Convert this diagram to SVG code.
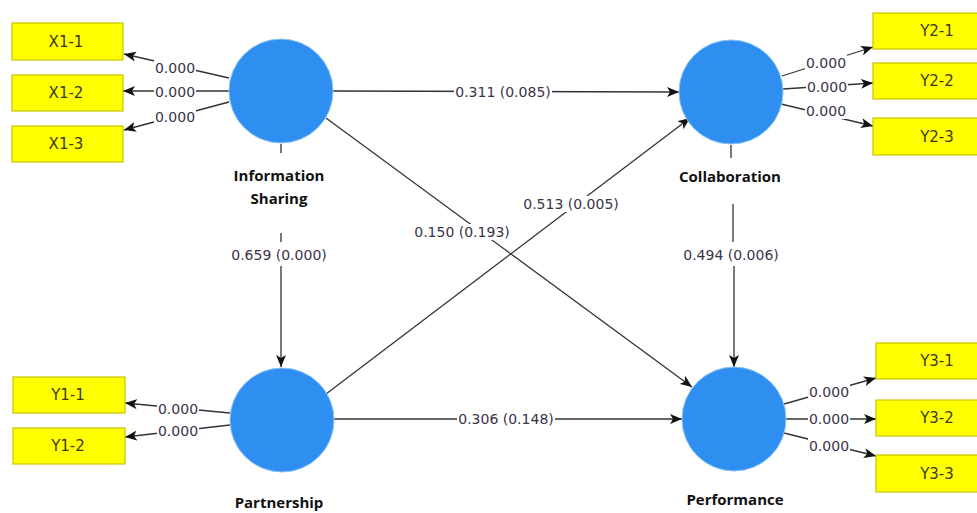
<svg xmlns="http://www.w3.org/2000/svg" width="977" height="513" viewBox="0 0 977 513">
<defs>
<marker id="ah" markerUnits="userSpaceOnUse" markerWidth="12" markerHeight="10" viewBox="0 0 12 10" refX="12" refY="5" orient="auto">
<path d="M0,0 L12,5 L0,10 L3,5 Z" fill="#111"/>
</marker>
<style>
.bg{fill:#ffffff}
.lv{fill:#2f8ff0;stroke:#8cc4f8;stroke-width:1}
.mv{fill:#ffff00;stroke:#c8c400;stroke-width:1.2}
.mt{font-family:"DejaVu Sans",sans-serif;font-size:15px;fill:#3a3a1a;text-anchor:middle;dominant-baseline:central}
.nl{font-family:"Open Sans",sans-serif;font-weight:bold;font-size:15px;fill:#111;text-anchor:middle}
.ln{fill:none;stroke:#333;stroke-width:1.3}
.lb{font-family:"DejaVu Sans",sans-serif;font-size:14px;fill:#3a3348;text-anchor:middle;dominant-baseline:central}
</style>
</defs>
<rect class="bg" x="0" y="0" width="977" height="513"/>
<g id="connectors">
<line class="ln" x1="229" y1="78" x2="124" y2="54" marker-end="url(#ah)"/>
<line class="ln" x1="229" y1="91" x2="123" y2="91" marker-end="url(#ah)"/>
<line class="ln" x1="229" y1="102" x2="124" y2="130" marker-end="url(#ah)"/>
<line class="ln" x1="782" y1="76" x2="873" y2="47" marker-end="url(#ah)"/>
<line class="ln" x1="783" y1="89" x2="873" y2="83" marker-end="url(#ah)"/>
<line class="ln" x1="781" y1="104" x2="873" y2="126" marker-end="url(#ah)"/>
<line class="ln" x1="230" y1="413" x2="125" y2="403" marker-end="url(#ah)"/>
<line class="ln" x1="230" y1="425" x2="125" y2="437" marker-end="url(#ah)"/>
<line class="ln" x1="784" y1="404" x2="876" y2="378" marker-end="url(#ah)"/>
<line class="ln" x1="786" y1="419" x2="876" y2="419" marker-end="url(#ah)"/>
<line class="ln" x1="784" y1="433" x2="876" y2="456" marker-end="url(#ah)"/>
<line class="ln" x1="333" y1="91" x2="679" y2="92" marker-end="url(#ah)"/>
<path class="ln" d="M281,144 V153 M281,233 V242 M281,266 V367" marker-end="url(#ah)"/>
<line class="ln" x1="326" y1="118" x2="692" y2="387" marker-end="url(#ah)"/>
<line class="ln" x1="326" y1="394" x2="690" y2="118" marker-end="url(#ah)"/>
<line class="ln" x1="334" y1="419" x2="682" y2="419" marker-end="url(#ah)"/>
<path class="ln" d="M731,145 V158 M733,204 V242 M734,266 V367" marker-end="url(#ah)"/>
<rect class="bg" x="154" y="60" width="42" height="16"/>
<rect class="bg" x="154" y="84" width="42" height="16"/>
<rect class="bg" x="154" y="109" width="42" height="16"/>
<rect class="bg" x="805" y="55" width="42" height="16"/>
<rect class="bg" x="806" y="79" width="42" height="16"/>
<rect class="bg" x="805" y="103" width="42" height="16"/>
<rect class="bg" x="157" y="401" width="42" height="16"/>
<rect class="bg" x="157" y="423" width="42" height="16"/>
<rect class="bg" x="808" y="384" width="42" height="16"/>
<rect class="bg" x="808" y="411" width="42" height="16"/>
<rect class="bg" x="808" y="438" width="42" height="16"/>
<rect class="bg" x="454" y="84" width="98" height="16"/>
<rect class="bg" x="230" y="247" width="98" height="16"/>
<rect class="bg" x="413" y="224" width="98" height="16"/>
<rect class="bg" x="522" y="196" width="98" height="16"/>
<rect class="bg" x="457" y="411" width="98" height="16"/>
<rect class="bg" x="682" y="247" width="98" height="16"/>
<text class="lb" x="175" y="68">0.000</text>
<text class="lb" x="175" y="92">0.000</text>
<text class="lb" x="175" y="117">0.000</text>
<text class="lb" x="826" y="63">0.000</text>
<text class="lb" x="827" y="87">0.000</text>
<text class="lb" x="826" y="111">0.000</text>
<text class="lb" x="178" y="409">0.000</text>
<text class="lb" x="178" y="431">0.000</text>
<text class="lb" x="829" y="392">0.000</text>
<text class="lb" x="829" y="419">0.000</text>
<text class="lb" x="829" y="446">0.000</text>
<text class="lb" x="503" y="92">0.311 (0.085)</text>
<text class="lb" x="279" y="255">0.659 (0.000)</text>
<text class="lb" x="462" y="232">0.150 (0.193)</text>
<text class="lb" x="571" y="204">0.513 (0.005)</text>
<text class="lb" x="506" y="419">0.306 (0.148)</text>
<text class="lb" x="731" y="255">0.494 (0.006)</text>
</g>
<g id="info-sharing">
<circle class="lv" cx="281" cy="91" r="52"/>
<text class="nl" x="279" y="181">Information</text>
<text class="nl" x="279" y="204">Sharing</text>
</g>
<g id="collaboration">
<circle class="lv" cx="731" cy="92" r="52"/>
<text class="nl" x="730" y="182">Collaboration</text>
</g>
<g id="partnership">
<circle class="lv" cx="282" cy="420" r="52"/>
<text class="nl" x="279" y="508">Partnership</text>
</g>
<g id="performance">
<circle class="lv" cx="734" cy="419" r="52"/>
<text class="nl" x="735" y="505">Performance</text>
</g>
<g id="X1-1"><rect class="mv" x="12" y="23" width="111" height="37"/><text class="mt" x="66" y="42">X1-1</text></g>
<g id="X1-2"><rect class="mv" x="12" y="75" width="111" height="36"/><text class="mt" x="66" y="93">X1-2</text></g>
<g id="X1-3"><rect class="mv" x="12" y="126" width="111" height="36"/><text class="mt" x="66" y="144">X1-3</text></g>
<g id="Y2-1"><rect class="mv" x="873" y="13" width="110" height="36"/><text class="mt" x="937" y="31">Y2-1</text></g>
<g id="Y2-2"><rect class="mv" x="873" y="63" width="110" height="36"/><text class="mt" x="937" y="81">Y2-2</text></g>
<g id="Y2-3"><rect class="mv" x="873" y="118" width="110" height="37"/><text class="mt" x="937" y="137">Y2-3</text></g>
<g id="Y1-1"><rect class="mv" x="13" y="377" width="112" height="36"/><text class="mt" x="68" y="395">Y1-1</text></g>
<g id="Y1-2"><rect class="mv" x="13" y="428" width="112" height="36"/><text class="mt" x="68" y="446">Y1-2</text></g>
<g id="Y3-1"><rect class="mv" x="876" y="343" width="110" height="36"/><text class="mt" x="937" y="361">Y3-1</text></g>
<g id="Y3-2"><rect class="mv" x="876" y="400" width="110" height="36"/><text class="mt" x="937" y="418">Y3-2</text></g>
<g id="Y3-3"><rect class="mv" x="876" y="455" width="110" height="37"/><text class="mt" x="937" y="474">Y3-3</text></g>
</svg>
